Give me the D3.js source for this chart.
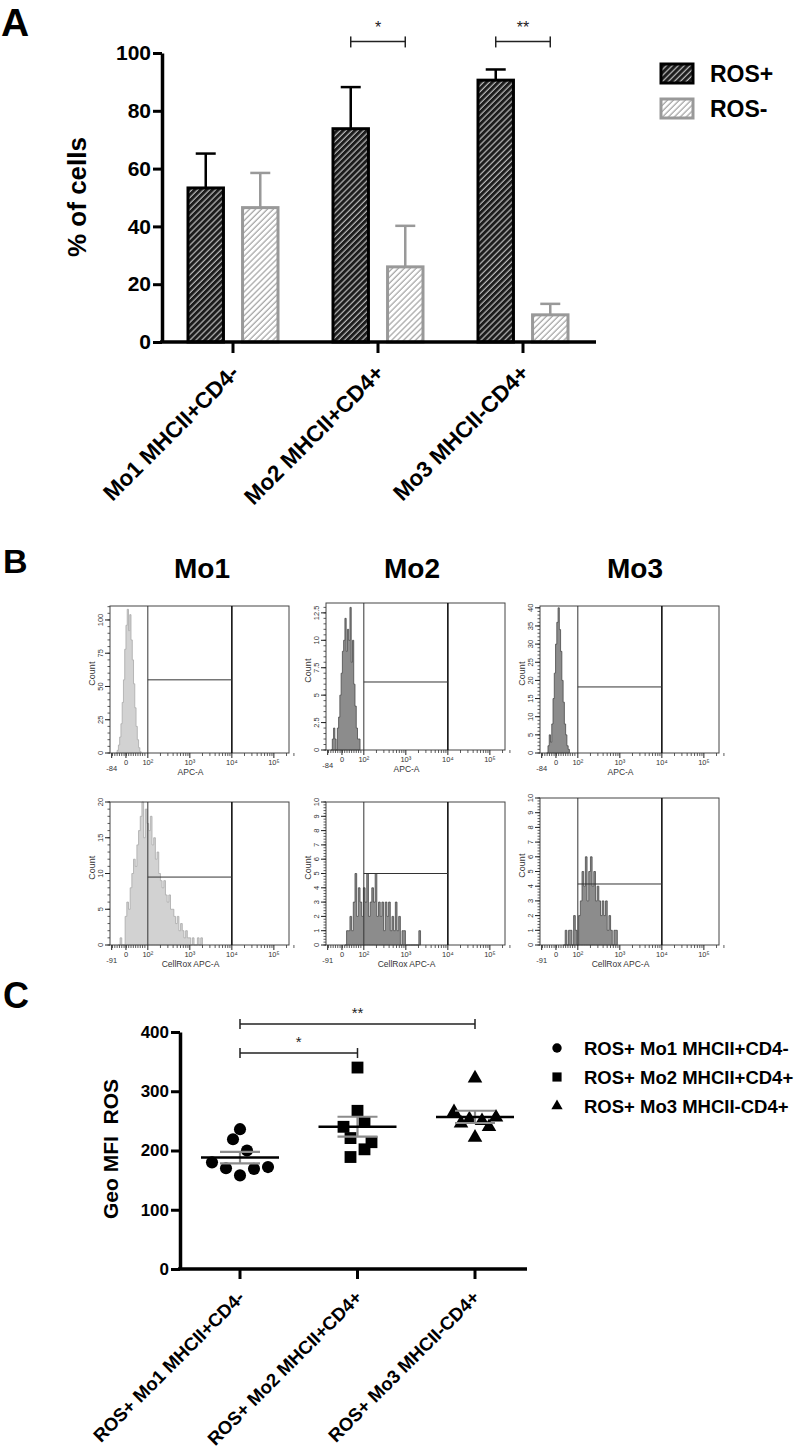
<!DOCTYPE html>
<html><head><meta charset="utf-8">
<script src="https://cdn.jsdelivr.net/npm/d3@7"></script>
<style>
body{margin:0;background:#fff}
svg{display:block}
text{font-family:"Liberation Sans",Arial,sans-serif}
</style>
</head><body>
<svg id="c" width="800" height="1449"></svg>
<script>
// ---------------- DATA ----------------
// Panel A
const categoriesA = ["Mo1 MHCII+CD4-", "Mo2 MHCII+CD4+", "Mo3 MHCII-CD4+"];
const seriesA = ["ROS+", "ROS-"];
const rosPosMean = [53.3, 73.8, 90.6];
const rosPosSem = [11.9, 14.4, 3.7];
const rosNegMean = [46.5, 26.0, 9.4];
const rosNegSem = [12.0, 14.2, 3.8];
const yTicksA = [0, 20, 40, 60, 80, 100];
const sigA = [{cat: "Mo2 MHCII+CD4+", label: "*", level: 104}, {cat: "Mo3 MHCII-CD4+", label: "**", level: 104}];

// Panel B (flow histograms, x in display decades: 2 = 10^2)
const columnsB = ["Mo1", "Mo2", "Mo3"];
const xTickPosB = [1.14, 1.48, 2, 3, 4, 5];
const xTickLabTop = ["-84", "0", "10²", "10³", "10⁴", "10⁵"];
const xTickLabBot = ["-91", "0", "10²", "10³", "10⁴", "10⁵"];
const xTitleTop = "APC-A";
const xTitleBot = "CellRox APC-A";
const gateLoHi = [2, 4];
const histTopMo1 = [0,2,6,12,22,38,55,78,96,108,92,104,85,70,52,34,20,10,4,1,0];
const histTopMo2 = [0,1,2,1,0,2,3,5,7,9,10,12,9,11,10,13,8,10,6,4,2,1,1,0];
const histTopMo3 = [0,2,5,3,8,15,22,30,36,40,34,28,20,14,8,5,2,1,0];
const histBotMo1 = [0,1,0,0,4,6,5,8,10,12,11,14,16,18,20,15,19,17,16,18,14,15,12,13,10,9,8,9,7,6,7,5,5,4,3,4,2,3,2,1,2,1,1,0,1,0,0,1,0,1,0];
const histBotMo2 = [0,1,1,2,1,3,5,2,4,3,2,4,3,5,2,3,4,3,5,2,3,2,3,1,3,2,3,1,2,1,3,1,2,0,1,1,0,0,0,0,0,0,0,0,1,0];
const histBotMo3 = [0,1,0,1,1,0,2,1,0,2,3,5,4,6,3,5,6,4,5,3,4,3,2,3,2,3,1,2,1,0,1,1,0];
const histStart = {topMo1: 1.24, topMo2: 1.22, topMo3: 1.26, botMo1: 1.30, botMo2: 1.55, botMo3: 1.66};
const histStep = {top: 0.03, bot: 0.04};
const yMaxB = {topMo1: 110.5, topMo2: 13.4, topMo3: 40.5, botMo1: 20, botMo2: 10, botMo3: 10};
const yTicksB = {topMo1: [0,25,50,75,100], topMo2: [0,2.5,5,7.5,10,12.5], topMo3: [0,5,10,15,20,25,30,35,40],
                 botMo1: [0,5,10,15,20], botMo2: [0,1,2,3,4,5,6,7,8,9,10], botMo3: [0,1,2,3,4,5,6,7,8,9,10]};
const gateCount = {topMo1: 55, topMo2: 6.2, topMo3: 18.2, botMo1: 9.5, botMo2: 5.0, botMo3: 4.15};

// Panel C
const categoriesC = ["ROS+ Mo1 MHCII+CD4-", "ROS+ Mo2 MHCII+CD4+", "ROS+ Mo3 MHCII-CD4+"];
const mfiMo1 = [236, 219, 200, 180, 170, 158, 169, 172];
const mfiMo2 = [340, 267, 240, 248, 221, 214, 202, 189];
const mfiMo3 = [322, 265, 246, 253, 250, 256, 240, 222];
const jitMo1 = [0, -0.5, 0.5, -2, -1, 0, 1, 2];
const jitMo2 = [0, 0, -1, 0.5, -0.5, 1, 0.5, -0.5];
const jitMo3 = [0, -1.5, -1, -0.4, 0.5, 1.5, 1, 0];
const yTicksC = [0, 100, 200, 300, 400];
const sigC = [{from: 0, to: 1, label: "*", level: 364.5}, {from: 0, to: 2, label: "**", level: 413.5}];

// ---------------- DRAW ----------------
const svg = d3.select("#c");
const defs = svg.append("defs");
function hatch(id, bg, fg, w) {
  const p = defs.append("pattern").attr("id", id).attr("patternUnits", "userSpaceOnUse")
    .attr("width", 4.2).attr("height", 4.2).attr("patternTransform", "rotate(45)");
  p.append("rect").attr("width", 4.2).attr("height", 4.2).attr("fill", bg);
  p.append("line").attr("x1", 1).attr("x2", 1).attr("y1", 0).attr("y2", 4.2).attr("stroke", fg).attr("stroke-width", w);
}
hatch("hDark", "#1c1c1c", "#f0f0f0", 0.9);
hatch("hLight", "#ffffff", "#a8a8a8", 1.3);

const bold = "bold";
// Panel letters
svg.append("text").attr("x", 1).attr("y", 36).attr("font-size", 39).attr("font-weight", bold).text("A");
svg.append("text").attr("x", 3).attr("y", 573).attr("font-size", 34).attr("font-weight", bold).text("B");
svg.append("text").attr("x", 3).attr("y", 1008).attr("font-size", 36).attr("font-weight", bold).text("C");

// ===== Panel A =====
const yA = d3.scaleLinear().domain([0, 100]).range([342, 53]);
const xA = d3.scaleBand().domain(categoriesA).range([160.5, 595.5]);
const xSubA = d3.scaleBand().domain(seriesA).range([-45, 45]).paddingInner(0.35);
const gA = svg.append("g");
const rowsA = categoriesA.map((c, i) => ({cat: c, vals: [
  {s: "ROS+", m: rosPosMean[i], e: rosPosSem[i]},
  {s: "ROS-", m: rosNegMean[i], e: rosNegSem[i]}]}));
const styleA = {"ROS+": {fill: "url(#hDark)", stroke: "#000"}, "ROS-": {fill: "url(#hLight)", stroke: "#999"}};
rowsA.forEach(r => {
  const cx = xA(r.cat) + xA.bandwidth() / 2;
  r.vals.forEach(v => {
    const bx = cx + xSubA(v.s), bw = xSubA.bandwidth(), mid = bx + bw / 2;
    const st = styleA[v.s];
    gA.append("line").attr("x1", mid).attr("x2", mid).attr("y1", yA(v.m)).attr("y2", yA(v.m + v.e))
      .attr("stroke", st.stroke).attr("stroke-width", 2.5);
    gA.append("line").attr("x1", mid - 10).attr("x2", mid + 10).attr("y1", yA(v.m + v.e)).attr("y2", yA(v.m + v.e))
      .attr("stroke", st.stroke).attr("stroke-width", 2.5);
    gA.append("rect").attr("x", bx).attr("y", yA(v.m)).attr("width", bw).attr("height", yA(0) - yA(v.m))
      .attr("fill", st.fill).attr("stroke", st.stroke).attr("stroke-width", 3);
  });
});
// axes A
const axYA = gA.append("g").attr("transform", "translate(162,0)")
  .call(d3.axisLeft(yA).tickValues(yTicksA).tickSizeInner(9).tickSizeOuter(0).tickPadding(2));
axYA.select(".domain").attr("stroke-width", 3.5);
axYA.selectAll(".tick line").attr("stroke-width", 3);
axYA.selectAll(".tick text").attr("font-size", 21).attr("font-weight", bold).attr("font-family", "Liberation Sans").attr("fill", "#000");
const axXA = gA.append("g").attr("transform", "translate(0,342)")
  .call(d3.axisBottom(xA).tickSizeInner(11).tickSizeOuter(0));
axXA.select(".domain").attr("stroke-width", 3.5).attr("d", "M160,0H596");
axXA.selectAll(".tick line").attr("stroke-width", 3);
axXA.selectAll(".tick text").remove();
categoriesA.forEach(c => {
  const cx = xA(c) + xA.bandwidth() / 2;
  gA.append("text").attr("transform", `translate(${cx + 2},${369}) rotate(-45)`)
    .attr("text-anchor", "end").attr("dominant-baseline", "central")
    .attr("font-size", 22.5).attr("font-weight", bold).text(c);
});
gA.append("text").attr("transform", "translate(86,197) rotate(-90)").attr("text-anchor", "middle")
  .attr("font-size", 26).attr("font-weight", bold).text("% of cells");
// significance A
sigA.forEach(s => {
  const cx = xA(s.cat) + xA.bandwidth() / 2;
  const x1 = cx + xSubA("ROS+") + xSubA.bandwidth() / 2, x2 = cx + xSubA("ROS-") + xSubA.bandwidth() / 2;
  const y = yA(s.level);
  const g = gA.append("g").attr("stroke", "#222").attr("stroke-width", 1.5);
  g.append("line").attr("x1", x1).attr("x2", x2).attr("y1", y).attr("y2", y);
  g.append("line").attr("x1", x1).attr("x2", x1).attr("y1", y - 5).attr("y2", y + 6);
  g.append("line").attr("x1", x2).attr("x2", x2).attr("y1", y - 5).attr("y2", y + 6);
  gA.append("text").attr("x", (x1 + x2) / 2).attr("y", y - 8).attr("text-anchor", "middle")
    .attr("font-size", 16).attr("fill", "#222").text(s.label);
});
// legend A
seriesA.forEach((s, i) => {
  const y = 64 + i * 35;
  gA.append("rect").attr("x", 661).attr("y", y).attr("width", 32).attr("height", 19)
    .attr("fill", styleA[s].fill).attr("stroke", styleA[s].stroke).attr("stroke-width", 3);
  gA.append("text").attr("x", 710).attr("y", y + 18).attr("font-size", 23).attr("font-weight", bold).text(s);
});

// ===== Panel B =====
const gB = svg.append("g");
const colCenters = [202, 412, 635];
columnsB.forEach((c, i) => gB.append("text").attr("x", colCenters[i]).attr("y", 578).attr("text-anchor", "middle")
  .attr("font-size", 28).attr("font-weight", bold).text(c));
const boxes = [
  {key: "topMo1", data: histTopMo1, x0: 110, y0: 606, w: 179, h: 147, row: "top", light: true},
  {key: "topMo2", data: histTopMo2, x0: 326, y0: 603, w: 179, h: 147, row: "top", light: false},
  {key: "topMo3", data: histTopMo3, x0: 540, y0: 606, w: 179, h: 147, row: "top", light: false},
  {key: "botMo1", data: histBotMo1, x0: 110, y0: 802, w: 179, h: 143, row: "bot", light: true},
  {key: "botMo2", data: histBotMo2, x0: 326, y0: 802, w: 179, h: 143, row: "bot", light: false},
  {key: "botMo3", data: histBotMo3, x0: 540, y0: 798, w: 179, h: 147, row: "bot", light: false}
];
boxes.forEach(b => {
  const g = gB.append("g");
  const x = d3.scaleLinear().domain([1.1, 5.36]).range([b.x0, b.x0 + b.w]);
  const y = d3.scaleLinear().domain([0, yMaxB[b.key]]).range([b.y0 + b.h, b.y0]);
  const st = histStart[b.key], step = histStep[b.row];
  const pts = b.data.map((v, i) => ({d: st + i * step, v}));
  const area = d3.area().curve(d3.curveStepAfter).x(p => x(p.d)).y0(y(0)).y1(p => y(p.v));
  g.append("path").datum(pts).attr("d", area)
    .attr("fill", b.light ? "#d2d2d2" : "#8c8c8c")
    .attr("stroke", b.light ? "#a9a9a9" : "#4a4a4a").attr("stroke-width", 0.8);
  // frame
  g.append("rect").attr("x", b.x0).attr("y", b.y0).attr("width", b.w).attr("height", b.h)
    .attr("fill", "none").attr("stroke", "#444").attr("stroke-width", 1);
  // gates
  g.append("line").attr("x1", x(gateLoHi[0])).attr("x2", x(gateLoHi[0])).attr("y1", b.y0).attr("y2", b.y0 + b.h)
    .attr("stroke", "#333").attr("stroke-width", 1);
  g.append("line").attr("x1", x(gateLoHi[1])).attr("x2", x(gateLoHi[1])).attr("y1", b.y0).attr("y2", b.y0 + b.h)
    .attr("stroke", "#111").attr("stroke-width", 1.6);
  g.append("line").attr("x1", x(gateLoHi[0])).attr("x2", x(gateLoHi[1])).attr("y1", y(gateCount[b.key])).attr("y2", y(gateCount[b.key]))
    .attr("stroke", "#333").attr("stroke-width", 1);
  // x ticks
  const base = b.y0 + b.h;
  const minor = d3.range(1.16, 1.98, 0.055).concat(...[2, 3, 4].map(d => d3.range(2, 10).map(k => d + Math.log10(k))), [5 + Math.log10(2), 5 + Math.log10(3)]);
  minor.forEach(m => g.append("line").attr("x1", x(m)).attr("x2", x(m)).attr("y1", base).attr("y2", base + 3).attr("stroke", "#333").attr("stroke-width", 0.8));
  xTickPosB.forEach(t => g.append("line").attr("x1", x(t)).attr("x2", x(t)).attr("y1", base).attr("y2", base + 5).attr("stroke", "#222").attr("stroke-width", 1));
  const labs = b.row === "top" ? xTickLabTop : xTickLabBot;
  xTickPosB.forEach((t, i) => g.append("text").attr("x", x(t)).attr("y", base + (i === 0 ? 18 : 12)).attr("text-anchor", "middle")
    .attr("font-size", 7.5).attr("fill", "#333").text(labs[i]));
  g.append("text").attr("x", b.x0 + b.w * 0.45).attr("y", base + 22).attr("text-anchor", "middle")
    .attr("font-size", 8.5).attr("fill", "#333").text(b.row === "top" ? xTitleTop : xTitleBot);
  // y ticks
  const yt = yTicksB[b.key];
  const ymin = (yt[1] - yt[0]) / 5;
  d3.range(0, yMaxB[b.key] + 1e-9, ymin).forEach(v => g.append("line").attr("x1", b.x0 - 2.5).attr("x2", b.x0).attr("y1", y(v)).attr("y2", y(v)).attr("stroke", "#333").attr("stroke-width", 0.8));
  yt.forEach(v => {
    g.append("line").attr("x1", b.x0 - 5).attr("x2", b.x0).attr("y1", y(v)).attr("y2", y(v)).attr("stroke", "#222").attr("stroke-width", 1);
    g.append("text").attr("transform", `translate(${b.x0 - 7},${y(v)}) rotate(-90)`).attr("text-anchor", "middle")
      .attr("font-size", 7.5).attr("fill", "#333").text(v);
  });
  g.append("text").attr("transform", `translate(${b.x0 - 15},${b.y0 + b.h * 0.46}) rotate(-90)`).attr("text-anchor", "middle")
    .attr("font-size", 9).attr("fill", "#333").text("Count");
});

// ===== Panel C =====
const gC = svg.append("g");
const yC = d3.scaleLinear().domain([0, 400]).range([1269, 1032]);
const xC = d3.scaleBand().domain(categoriesC).range([181.25, 533.75]);
const jitC = d3.scaleLinear().domain([-2, 2]).range([-28, 28]);
const groupsC = [
  {cat: categoriesC[0], vals: mfiMo1, jit: jitMo1, sym: d3.symbolCircle, size: 115},
  {cat: categoriesC[1], vals: mfiMo2, jit: jitMo2, sym: d3.symbolSquare, size: 140},
  {cat: categoriesC[2], vals: mfiMo3, jit: jitMo3, sym: d3.symbolTriangle, size: 92}
];
groupsC.forEach(gr => {
  const cx = xC(gr.cat) + xC.bandwidth() / 2;
  gr.vals.forEach((v, i) => gC.append("path").attr("d", d3.symbol(gr.sym, gr.size)())
    .attr("transform", `translate(${cx + jitC(gr.jit[i])},${yC(v)})`).attr("fill", "#000"));
  const m = d3.mean(gr.vals), sem = d3.deviation(gr.vals) / Math.sqrt(gr.vals.length);
  const sg = gC.append("g").attr("stroke", "#8c8c8c").attr("stroke-width", 2.2);
  sg.append("line").attr("x1", cx).attr("x2", cx).attr("y1", yC(m + sem)).attr("y2", yC(m - sem));
  sg.append("line").attr("x1", cx - 20).attr("x2", cx + 20).attr("y1", yC(m + sem)).attr("y2", yC(m + sem));
  sg.append("line").attr("x1", cx - 20).attr("x2", cx + 20).attr("y1", yC(m - sem)).attr("y2", yC(m - sem));
  gC.append("line").attr("x1", cx - 39).attr("x2", cx + 39).attr("y1", yC(m)).attr("y2", yC(m))
    .attr("stroke", "#000").attr("stroke-width", 2.5);
});
const axYC = gC.append("g").attr("transform", "translate(180,0)")
  .call(d3.axisLeft(yC).tickValues(yTicksC).tickSizeInner(9).tickSizeOuter(0).tickPadding(2));
axYC.select(".domain").attr("stroke-width", 3.5);
axYC.selectAll(".tick line").attr("stroke-width", 3);
axYC.selectAll(".tick text").attr("font-size", 17).attr("font-weight", bold).attr("font-family", "Liberation Sans").attr("fill", "#000");
const axXC = gC.append("g").attr("transform", "translate(0,1269)")
  .call(d3.axisBottom(xC).tickSizeInner(10).tickSizeOuter(0));
axXC.select(".domain").attr("stroke-width", 3.5).attr("d", "M178,0H527");
axXC.selectAll(".tick line").attr("stroke-width", 3);
axXC.selectAll(".tick text").remove();
categoriesC.forEach(c => {
  const cx = xC(c) + xC.bandwidth() / 2;
  gC.append("text").attr("transform", `translate(${cx + 1},${1294}) rotate(-45)`)
    .attr("text-anchor", "end").attr("dominant-baseline", "central")
    .attr("font-size", 18.5).attr("font-weight", bold).text(c);
});
gC.append("text").attr("transform", "translate(118,1149) rotate(-90)").attr("text-anchor", "middle")
  .attr("font-size", 21).attr("font-weight", bold).style("white-space", "pre").text("Geo MFI  ROS");
sigC.forEach(s => {
  const x1 = xC(categoriesC[s.from]) + xC.bandwidth() / 2, x2 = xC(categoriesC[s.to]) + xC.bandwidth() / 2;
  const y = yC(s.level);
  const g = gC.append("g").attr("stroke", "#222").attr("stroke-width", 1.5);
  g.append("line").attr("x1", x1).attr("x2", x2).attr("y1", y).attr("y2", y);
  g.append("line").attr("x1", x1).attr("x2", x1).attr("y1", y - 5).attr("y2", y + 5);
  g.append("line").attr("x1", x2).attr("x2", x2).attr("y1", y - 5).attr("y2", y + 5);
  gC.append("text").attr("x", (x1 + x2) / 2).attr("y", y - 6).attr("text-anchor", "middle")
    .attr("font-size", 15).attr("fill", "#222").text(s.label);
});
// legend C
groupsC.forEach((gr, i) => {
  const y = 1048 + i * 29;
  gC.append("path").attr("d", d3.symbol(gr.sym, gr.size * 0.6)()).attr("transform", `translate(557,${y})`).attr("fill", "#000");
  gC.append("text").attr("x", 584).attr("y", y).attr("dominant-baseline", "central")
    .attr("font-size", 18.5).attr("font-weight", bold).text(gr.cat);
});
</script>
</body></html>
